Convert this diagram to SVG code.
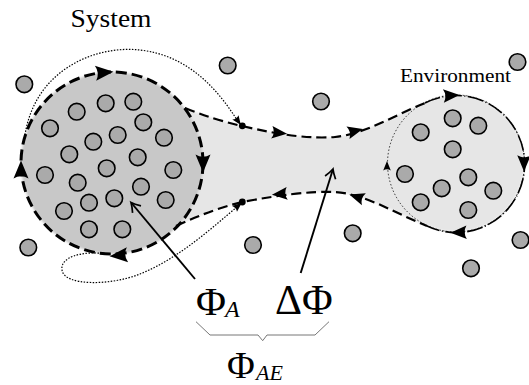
<svg xmlns="http://www.w3.org/2000/svg" xmlns:xlink="http://www.w3.org/1999/xlink" width="529" height="385" viewBox="0 0 529 385">
<style>
.p{fill:#aaaaaa;stroke:#000;stroke-width:1.6}
.thick{fill:none;stroke:#000;stroke-width:3;stroke-dasharray:11 5}
.tube{fill:none;stroke:#000;stroke-width:2.2;stroke-dasharray:10 5}
.envd{fill:none;stroke:#000;stroke-width:1.6;stroke-dasharray:16 2.5 1 2.5}
.dot{fill:none;stroke:#000;stroke-width:1.2;stroke-dasharray:1.5 1.5}
.thin{fill:none;stroke:#000;stroke-width:0.8;stroke-dasharray:1.5 2}
.ptr{fill:none;stroke:#000;stroke-width:1.9}
</style>
<defs>
<path id="ah" d="M9.5,0 L-8.5,-7.5 Q-4,0 -8.5,7.5 Z" fill="#000"/>
<path id="ahs" d="M5,0 L-4.5,-3.8 Q-2.2,0 -4.5,3.8 Z" fill="#000"/>
<path id="to" d="M-9,-5.5 Q-3.5,-1.5 0,0 Q-3.5,1.5 -9,5.5" fill="none" stroke="#000" stroke-width="1.7"/>
<filter id="soft" x="-10%" y="-10%" width="120%" height="120%"><feGaussianBlur stdDeviation="1.2"/></filter>
</defs>
<rect width="529" height="385" fill="#fff"/>

<g id="tube-region" filter="url(#soft)">
<path d="M185,108 Q215,120 242,126 C280,135 310,139 335,137 C365,134 395,115 425,103 L427,226 C395,213 365,194 335,192 C310,191 280,195 242,202 Q210,210 176,226 Z" fill="#e6e6e6"/>
<circle cx="456" cy="163.5" r="68.5" fill="#e6e6e6"/>
<circle cx="112" cy="163" r="91" fill="#c8c8c8"/>
</g>

<g id="connectors">
<circle cx="112" cy="163" r="91" class="thick"/>
<path class="tube" d="M185,108 Q215,120 242,126 C280,135 310,139 335,137 C365,134 395,115 425,103"/>
<path class="tube" d="M176,226 Q210,210 242,202 C280,195 310,191 335,192 C365,194 395,213 427,226"/>
<circle cx="456" cy="163.5" r="68.5" class="thin"/>
<path class="envd" d="M425,103 A68.5,68.5 0 1 1 427,226"/>
<path class="dot" d="M25,135 C35,70 95,45 140,50 C185,55 215,85 237,120"/>
<path class="dot" d="M108,254 C80,250 60,258 62,270 C64,286 110,286 140,274 C180,258 215,225 237,207"/>
<use xlink:href="#ahs" transform="translate(238,121) rotate(55)"/>
<use xlink:href="#ahs" transform="translate(238,206) rotate(-40)"/>
<circle cx="242.3" cy="125.8" r="3.4" fill="#000"/>
<circle cx="242.3" cy="202" r="3.4" fill="#000"/>
<use xlink:href="#ah" transform="translate(104,72.5) rotate(-5)"/>
<use xlink:href="#ah" transform="translate(203,163) rotate(90)"/>
<use xlink:href="#ah" transform="translate(119,255.5) rotate(175)"/>
<use xlink:href="#ah" transform="translate(21,170) rotate(-90)"/>
<use xlink:href="#ah" transform="translate(279,133) rotate(6) scale(0.85)"/>
<use xlink:href="#ah" transform="translate(355,131) rotate(-14) scale(0.85)"/>
<use xlink:href="#ah" transform="translate(280,194) rotate(175) scale(0.85)"/>
<use xlink:href="#ah" transform="translate(357,197) rotate(198) scale(0.85)"/>
<use xlink:href="#ah" transform="translate(451,95.5) rotate(-4) scale(0.9)"/>
<use xlink:href="#ah" transform="translate(524,163) rotate(90) scale(0.9)"/>
<use xlink:href="#ah" transform="translate(459,232.5) rotate(178) scale(0.9)"/>
<use xlink:href="#ahs" transform="translate(387,166) rotate(-90)"/>
<path class="ptr" d="M195,279 L131.5,203"/>
<use xlink:href="#to" transform="translate(131,202.5) rotate(230)"/>
<path class="ptr" d="M300.7,273 L332.7,170"/>
<use xlink:href="#to" transform="translate(333,169) rotate(-72.7)"/>
</g>

<g id="system">
<circle class="p" cx="76.7" cy="111.7" r="8.3"/>
<circle class="p" cx="105.7" cy="103.3" r="8.3"/>
<circle class="p" cx="133.3" cy="101.7" r="8.3"/>
<circle class="p" cx="50" cy="128.3" r="8.3"/>
<circle class="p" cx="143.3" cy="122.3" r="8.3"/>
<circle class="p" cx="93.3" cy="141.7" r="8.3"/>
<circle class="p" cx="117.7" cy="135" r="8.3"/>
<circle class="p" cx="164" cy="137.7" r="8.3"/>
<circle class="p" cx="69.3" cy="154.3" r="8.3"/>
<circle class="p" cx="137.7" cy="157.3" r="8.3"/>
<circle class="p" cx="106.7" cy="168.3" r="8.3"/>
<circle class="p" cx="45" cy="175" r="8.3"/>
<circle class="p" cx="77.7" cy="182.7" r="8.3"/>
<circle class="p" cx="173.3" cy="170" r="8.3"/>
<circle class="p" cx="141" cy="186.7" r="8.3"/>
<circle class="p" cx="114.3" cy="198.3" r="8.3"/>
<circle class="p" cx="89" cy="202.7" r="8.3"/>
<circle class="p" cx="64" cy="211" r="8.3"/>
<circle class="p" cx="165.7" cy="200" r="8.3"/>
<circle class="p" cx="89" cy="229.3" r="8.3"/>
<circle class="p" cx="122.3" cy="229.3" r="8.3"/>
<text x="70.5" y="26.7" font-family="Liberation Serif, DejaVu Serif, serif" font-size="26" textLength="81" lengthAdjust="spacingAndGlyphs">System</text>
</g>

<g id="environment">
<circle class="p" cx="452.7" cy="118.3" r="8.3"/>
<circle class="p" cx="478.3" cy="125.7" r="8.3"/>
<circle class="p" cx="420.7" cy="132.3" r="8.3"/>
<circle class="p" cx="452.7" cy="149.3" r="8.3"/>
<circle class="p" cx="405" cy="174" r="8.3"/>
<circle class="p" cx="468.3" cy="177.3" r="8.3"/>
<circle class="p" cx="441.7" cy="188.3" r="8.3"/>
<circle class="p" cx="493.3" cy="190.7" r="8.3"/>
<circle class="p" cx="420.7" cy="202.3" r="8.3"/>
<circle class="p" cx="468.3" cy="210" r="8.3"/>
<text x="400" y="81.5" font-family="Liberation Serif, DejaVu Serif, serif" font-size="19.5" textLength="111" lengthAdjust="spacingAndGlyphs">Environment</text>
</g>

<g id="outside">
<circle class="p" cx="24.3" cy="84.3" r="8.3"/>
<circle class="p" cx="227.7" cy="65.5" r="8.3"/>
<circle class="p" cx="321" cy="101.5" r="8.3"/>
<circle class="p" cx="517.5" cy="62" r="8.3"/>
<circle class="p" cx="253" cy="245" r="8.3"/>
<circle class="p" cx="352.7" cy="233.3" r="8.3"/>
<circle class="p" cx="520.5" cy="240" r="8.3"/>
<circle class="p" cx="471" cy="268.3" r="8.3"/>
<circle class="p" cx="28.3" cy="247.5" r="8.3"/>
</g>

<g id="labels" font-family="Liberation Serif, DejaVu Serif, serif">
<text x="196" y="315" font-size="41">Φ</text>
<text x="225" y="317" font-size="24" font-style="italic">A</text>
<text x="275" y="313.5" font-size="42">ΔΦ</text>
<path d="M196,321.7 L210,335 L258,335 L262.7,340.7 L267,335 L315,335 L329,321.7" fill="none" stroke="#777" stroke-width="1"/>
<text x="227" y="378" font-size="38">Φ</text>
<text x="256" y="380" font-size="22" font-style="italic">AE</text>
</g>
</svg>
